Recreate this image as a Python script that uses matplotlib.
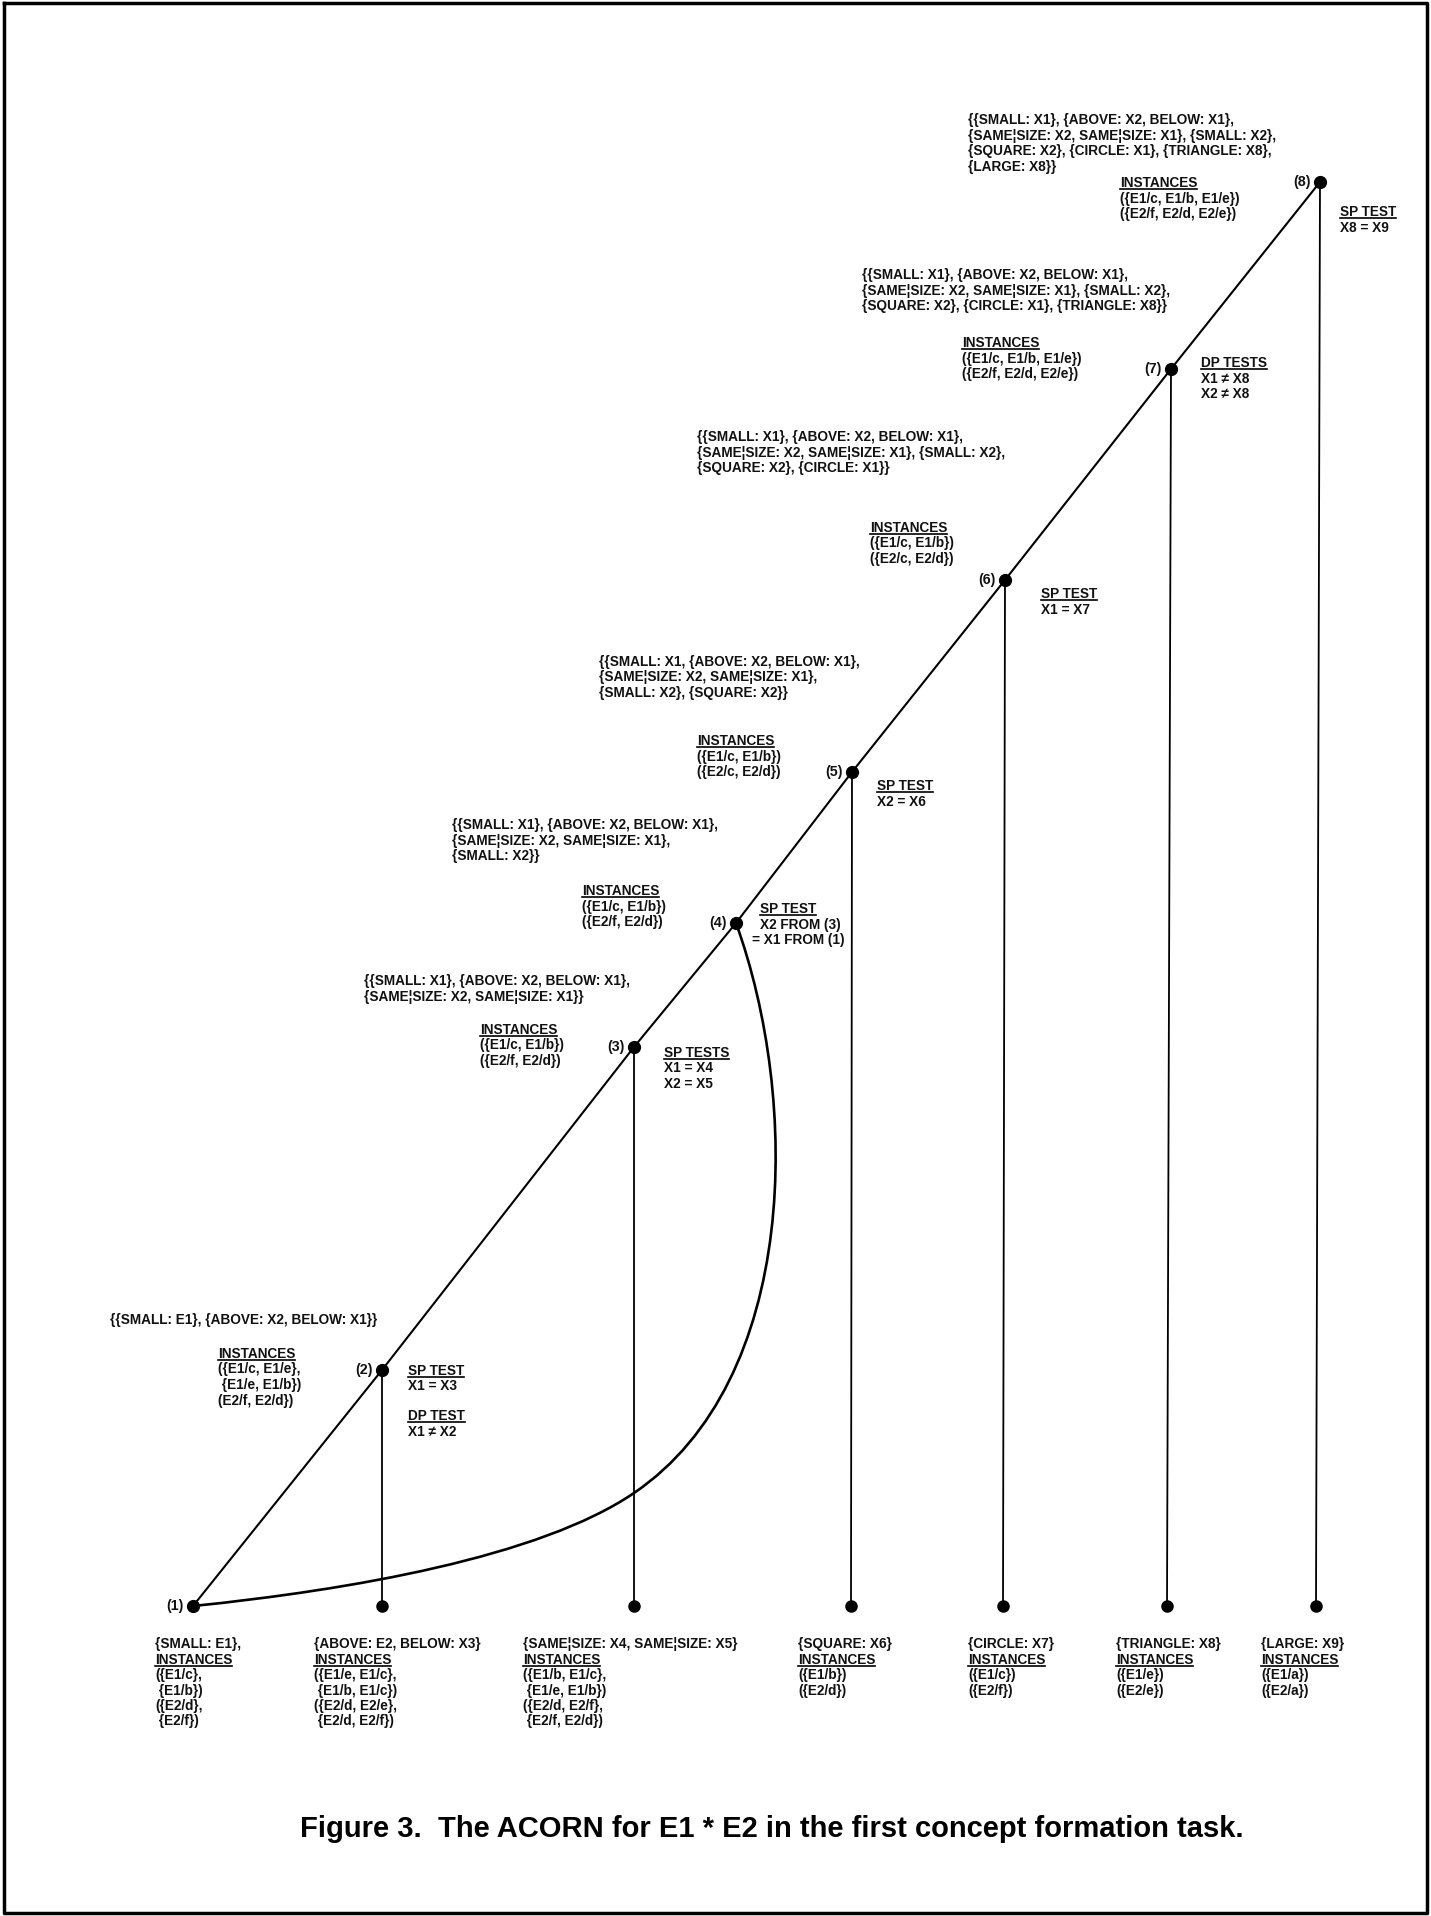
import matplotlib
matplotlib.use("Agg")
import matplotlib.pyplot as plt
from matplotlib.path import Path
from matplotlib.patches import PathPatch

W, H = 1431, 1916
TXT = ['Liberation Sans', 'DejaVu Sans']
CAP = ['Liberation Sans Narrow', 'Liberation Sans', 'DejaVu Sans']

# ---------------- data ----------------
node_labels = ['(1)', '(2)', '(3)', '(4)', '(5)', '(6)', '(7)', '(8)']
node_x = [193, 382, 634, 736, 852, 1005, 1171, 1320]
node_y = [1606, 1370, 1047, 923, 772, 580, 369, 182]

leaf_parent = [2, 3, 5, 6, 7, 8]
leaf_x = [382, 634, 851, 1003, 1167, 1316]
leaf_y = 1606

concept_8 = ['{{SMALL: X1}, {ABOVE: X2, BELOW: X1},',
             '{SAME¦SIZE: X2, SAME¦SIZE: X1}, {SMALL: X2},',
             '{SQUARE: X2}, {CIRCLE: X1}, {TRIANGLE: X8},',
             '{LARGE: X8}}']
concept_7 = ['{{SMALL: X1}, {ABOVE: X2, BELOW: X1},',
             '{SAME¦SIZE: X2, SAME¦SIZE: X1}, {SMALL: X2},',
             '{SQUARE: X2}, {CIRCLE: X1}, {TRIANGLE: X8}}']
concept_6 = ['{{SMALL: X1}, {ABOVE: X2, BELOW: X1},',
             '{SAME¦SIZE: X2, SAME¦SIZE: X1}, {SMALL: X2},',
             '{SQUARE: X2}, {CIRCLE: X1}}']
concept_5 = ['{{SMALL: X1, {ABOVE: X2, BELOW: X1},',
             '{SAME¦SIZE: X2, SAME¦SIZE: X1},',
             '{SMALL: X2}, {SQUARE: X2}}']
concept_4 = ['{{SMALL: X1}, {ABOVE: X2, BELOW: X1},',
             '{SAME¦SIZE: X2, SAME¦SIZE: X1},',
             '{SMALL: X2}}']
concept_3 = ['{{SMALL: X1}, {ABOVE: X2, BELOW: X1},',
             '{SAME¦SIZE: X2, SAME¦SIZE: X1}}']
concept_2 = ['{{SMALL: E1}, {ABOVE: X2, BELOW: X1}}']

inst_8 = ['INSTANCES', '({E1/c, E1/b, E1/e})', '({E2/f, E2/d, E2/e})']
inst_7 = ['INSTANCES', '({E1/c, E1/b, E1/e})', '({E2/f, E2/d, E2/e})']
inst_6 = ['INSTANCES', '({E1/c, E1/b})', '({E2/c, E2/d})']
inst_5 = ['INSTANCES', '({E1/c, E1/b})', '({E2/c, E2/d})']
inst_4 = ['INSTANCES', '({E1/c, E1/b})', '({E2/f, E2/d})']
inst_3 = ['INSTANCES', '({E1/c, E1/b})', '({E2/f, E2/d})']
inst_2 = ['INSTANCES', '({E1/c, E1/e},', ' {E1/e, E1/b})', '(E2/f, E2/d})']

test_8 = ['SP TEST', 'X8 = X9']
test_7 = ['DP TESTS', 'X1 ≠ X8', 'X2 ≠ X8']
test_6 = ['SP TEST', 'X1 = X7']
test_5 = ['SP TEST', 'X2 = X6']
test_4 = ['SP TEST', 'X2 FROM (3)']
test_4_cont = ['= X1 FROM (1)']
test_3 = ['SP TESTS', 'X1 = X4', 'X2 = X5']
test_2a = ['SP TEST', 'X1 = X3']
test_2b = ['DP TEST', 'X1 ≠ X2']

leaf_1 = ['{SMALL: E1},', 'INSTANCES', '({E1/c},', ' {E1/b})', '({E2/d},', ' {E2/f})']
leaf_2 = ['{ABOVE: E2, BELOW: X3}', 'INSTANCES', '({E1/e, E1/c},', ' {E1/b, E1/c})',
          '({E2/d, E2/e},', ' {E2/d, E2/f})']
leaf_3 = ['{SAME¦SIZE: X4, SAME¦SIZE: X5}', 'INSTANCES', '({E1/b, E1/c},', ' {E1/e, E1/b})',
          '({E2/d, E2/f},', ' {E2/f, E2/d})']
leaf_5 = ['{SQUARE: X6}', 'INSTANCES', '({E1/b})', '({E2/d})']
leaf_6 = ['{CIRCLE: X7}', 'INSTANCES', '({E1/c})', '({E2/f})']
leaf_7 = ['{TRIANGLE: X8}', 'INSTANCES', '({E1/e})', '({E2/e})']
leaf_8 = ['{LARGE: X9}', 'INSTANCES', '({E1/a})', '({E2/a})']

caption = 'Figure 3.  The ACORN for E1 * E2 in the first concept formation task.'

# ---------------- figure ----------------
fig = plt.figure(figsize=(W / 100, H / 100), dpi=100)
fig.patch.set_facecolor('white')
ax = fig.add_axes([0, 0, 1, 1])
ax.set_xlim(0, W)
ax.set_ylim(H, 0)
ax.axis('off')

FS = 9.8
LH = 15.5
underlined = []


def block(x, y, lines, under=()):
    for i, s in enumerate(lines):
        t = ax.text(x, y + i * LH, s, fontsize=FS, fontweight='bold', family=TXT,
                    ha='left', va='center', color='#111111')
        if i in under:
            underlined.append(t)


# main diagonal line (1) -> (8)
ax.plot(node_x, node_y, color='black', lw=1.5, solid_capstyle='round', zorder=2)

# vertical drops to leaves
for p, lx in zip(leaf_parent, leaf_x):
    ax.plot([node_x[p - 1], lx], [node_y[p - 1], leaf_y], color='black', lw=1.3, zorder=2)

# curved link (4) -> (1)
x4, y4 = node_x[3], node_y[3]
x1, y1 = node_x[0], node_y[0]
verts = [(x4, y4), (800, 1100), (800, 1380), (634, 1493),
         (540, 1557), (350, 1590), (x1, y1)]
codes = [Path.MOVETO] + [Path.CURVE4] * 6
ax.add_patch(PathPatch(Path(verts, codes), fill=False, lw=1.9, ec='black', zorder=2))

# nodes
ax.plot(node_x, node_y, 'o', color='black', ms=8.5, zorder=3)
ax.plot(leaf_x, [leaf_y] * len(leaf_x), 'o', color='black', ms=8, zorder=3)

# node labels
for lab, nx, ny in zip(node_labels, node_x, node_y):
    ax.text(nx - 9, ny, lab, fontsize=FS + 0.5, fontweight='bold', family=TXT,
            ha='right', va='center', color='#111111')

# concept texts
block(968, 120, concept_8)
block(862, 275, concept_7)
block(697, 437, concept_6)
block(599, 662, concept_5)
block(452, 825, concept_4)
block(364, 981, concept_3)
block(110, 1320, concept_2)

# instances
block(1120, 183, inst_8, (0,))
block(962, 343, inst_7, (0,))
block(870, 528, inst_6, (0,))
block(697, 741, inst_5, (0,))
block(582, 891, inst_4, (0,))
block(480, 1030, inst_3, (0,))
block(218, 1354, inst_2, (0,))

# tests
block(1340, 212, test_8, (0,))
block(1201, 363, test_7, (0,))
block(1041, 594, test_6, (0,))
block(877, 786, test_5, (0,))
block(760, 909, test_4, (0,))
block(752, 940, test_4_cont)
block(664, 1053, test_3, (0,))
block(408, 1371, test_2a, (0,))
block(408, 1416, test_2b, (0,))

# leaf texts
block(155, 1644, leaf_1, (1,))
block(314, 1644, leaf_2, (1,))
block(523, 1644, leaf_3, (1,))
block(798, 1644, leaf_5, (1,))
block(968, 1644, leaf_6, (1,))
block(1116, 1644, leaf_7, (1,))
block(1261, 1644, leaf_8, (1,))

# caption
ax.text(772, 1829, caption, fontsize=21, fontweight='bold', family=CAP,
        ha='center', va='center', color='black')

# frame
ax.plot([4, W - 4, W - 4, 4, 4], [3, 3, H - 3, H - 3, 3], color='black', lw=2.5)

# underlines
fig.canvas.draw()
r = fig.canvas.get_renderer()
inv = ax.transData.inverted()
for t in underlined:
    bb = t.get_window_extent(renderer=r)
    (xa, ya), (xb, yb) = inv.transform([(bb.x0, bb.y0), (bb.x1, bb.y1)])
    yl = max(ya, yb) - 1
    ax.plot([xa, xb], [yl, yl], color='black', lw=1.2)

fig.savefig('out.png', dpi=100, facecolor='white')
